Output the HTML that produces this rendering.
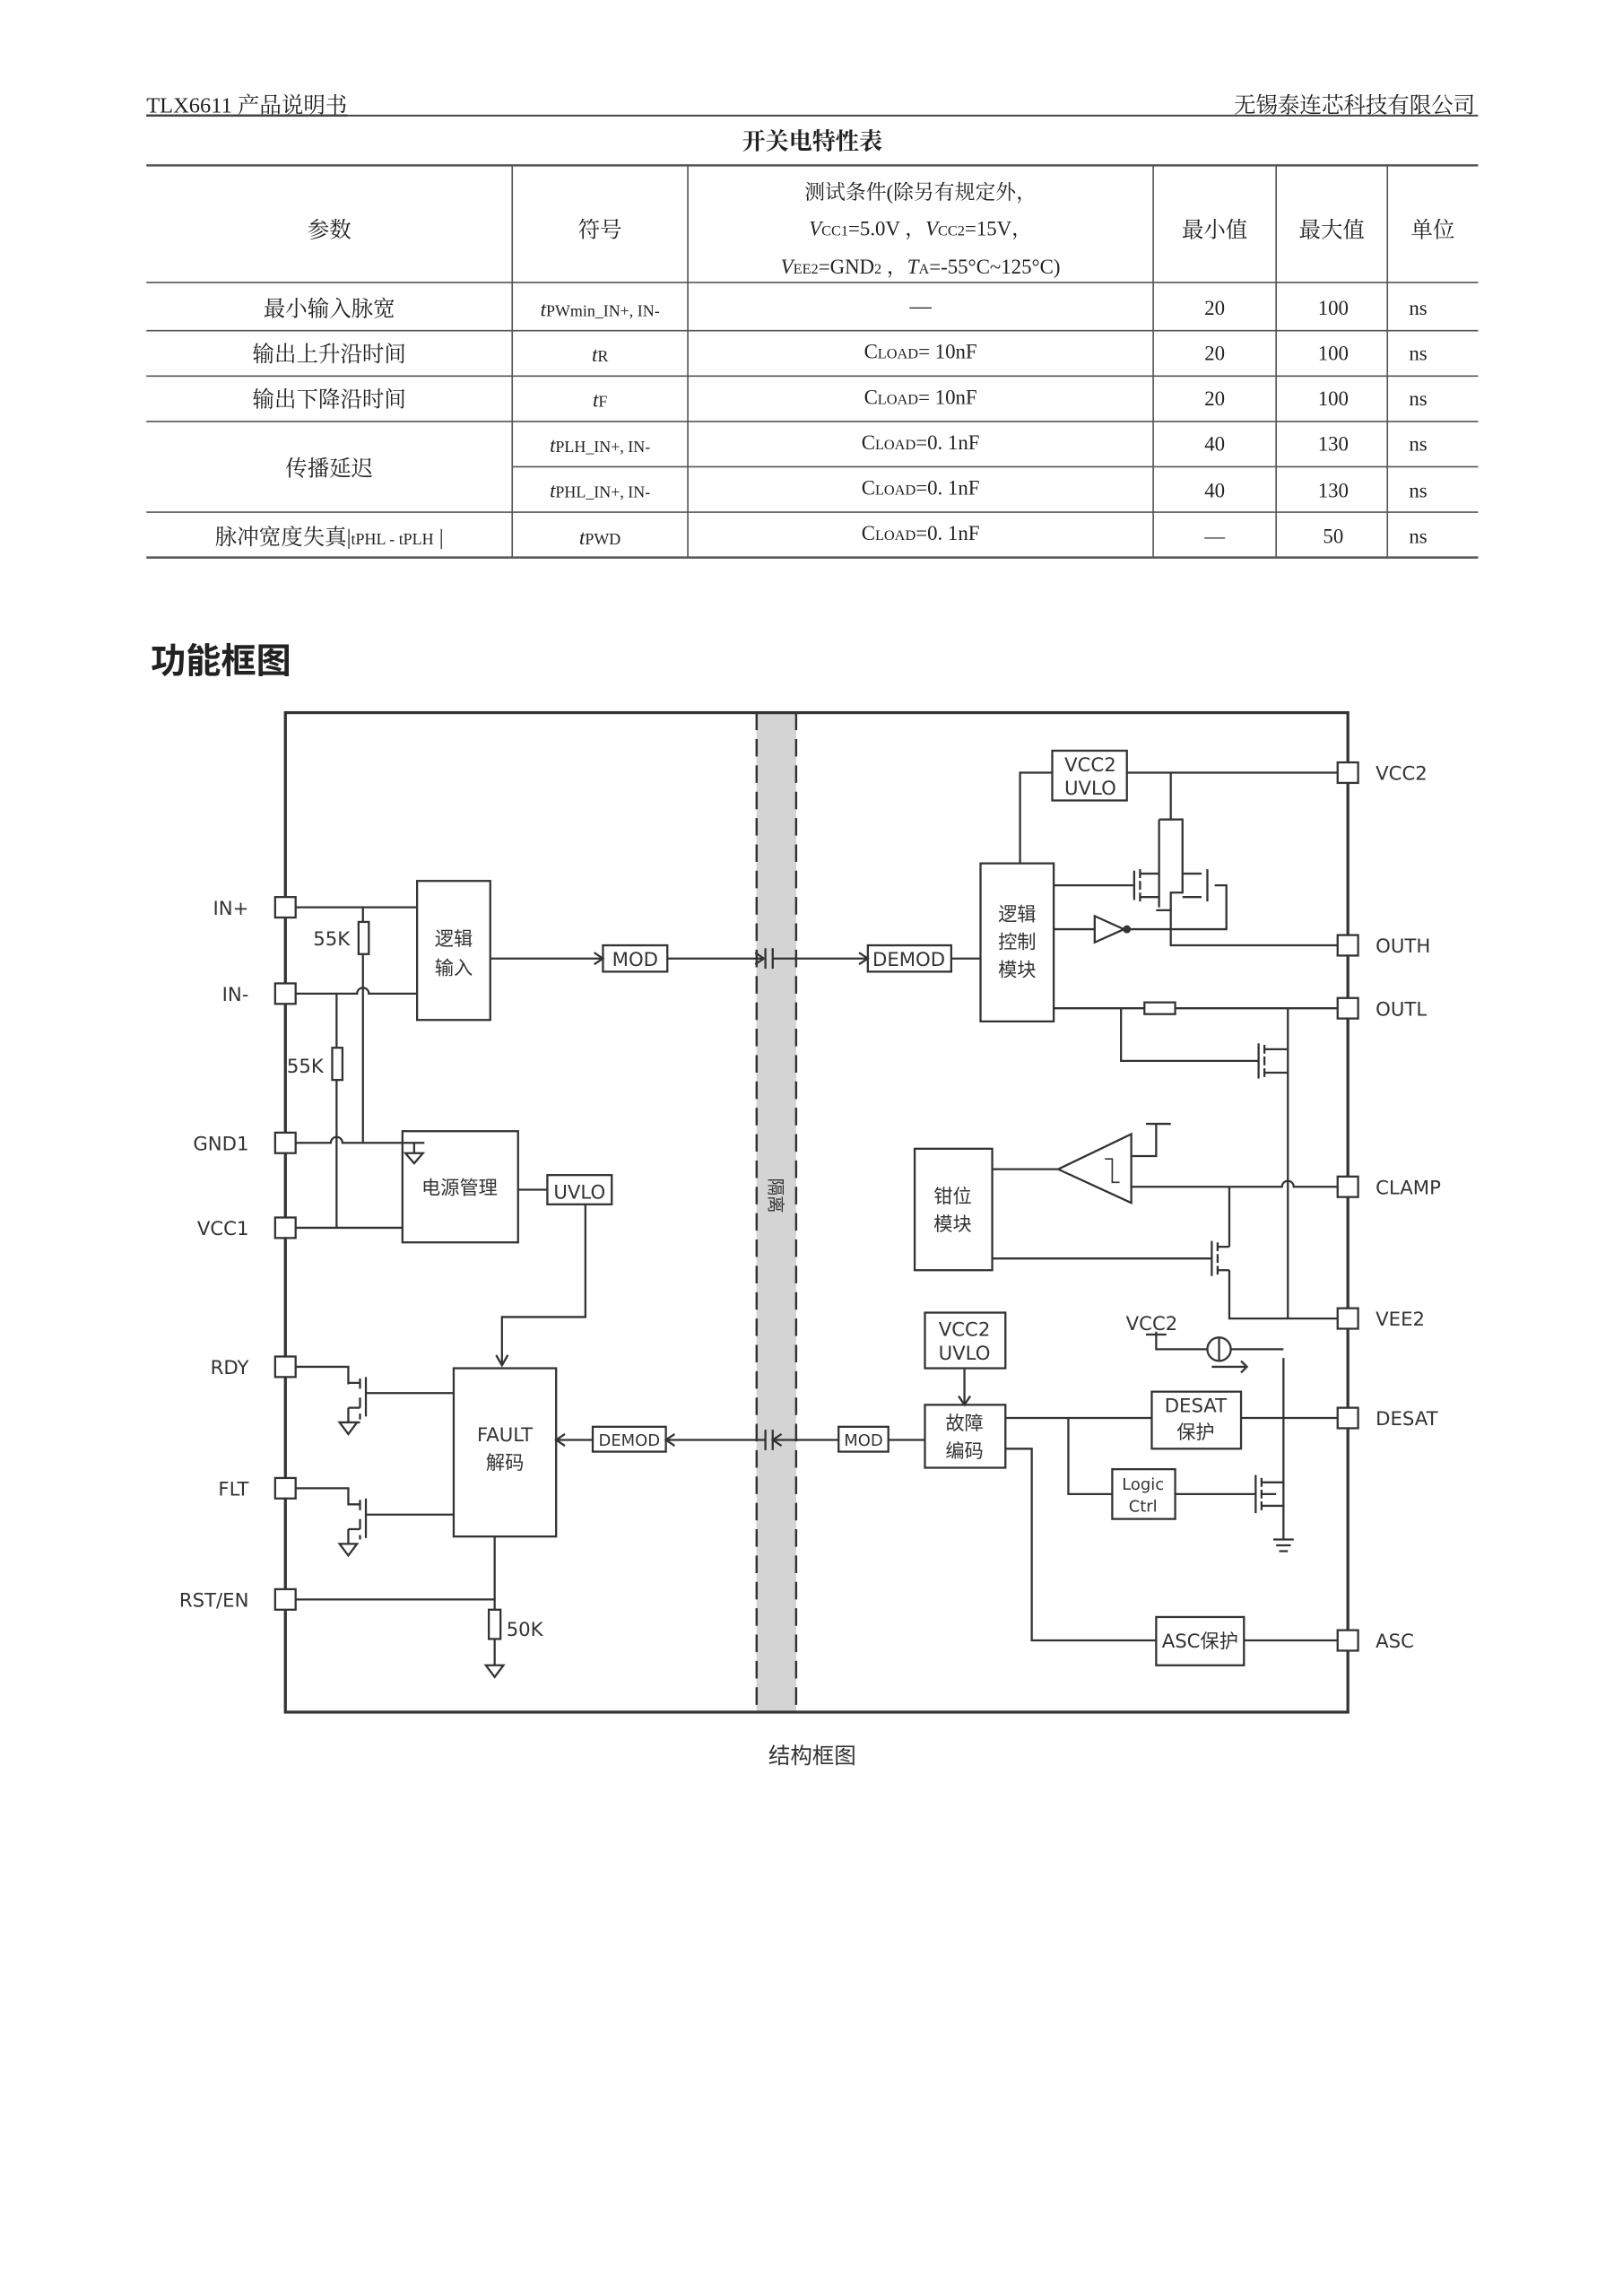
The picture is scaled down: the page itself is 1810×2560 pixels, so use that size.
<!DOCTYPE html>
<html><head><meta charset="utf-8"><style>
html,body{margin:0;padding:0;background:#fff}
svg{display:block}
.s{font-family:"Liberation Serif","Noto Serif CJK SC",serif;fill:#222}
.d{font-family:"DejaVu Sans","Liberation Sans","Noto Sans CJK SC",sans-serif;fill:#333}
</style></head><body>
<svg width="1810" height="2560" viewBox="0 0 1109 1569" preserveAspectRatio="none" xmlns="http://www.w3.org/2000/svg">
<rect width="1109" height="1569" fill="#fff"/>
<!-- header -->
<text x="100" y="77" class="s" font-size="15" text-decoration="underline">TLX6611 产品说明书</text>
<text x="1008" y="77" class="s" font-size="15" text-anchor="end">无锡泰连芯科技有限公司</text>
<line x1="100" y1="79" x2="1010" y2="79" stroke="#444" stroke-width="1.2"/>
<text x="555" y="102" class="s" font-size="16" font-weight="bold" text-anchor="middle">开关电特性表</text>
<!-- table -->
<g stroke="#555" stroke-width="1" fill="none">
<line x1="100" y1="113" x2="1010" y2="113" stroke-width="1.5"/>
<line x1="100" y1="193" x2="1010" y2="193"/>
<line x1="100" y1="226" x2="1010" y2="226"/>
<line x1="100" y1="257" x2="1010" y2="257"/>
<line x1="100" y1="288" x2="1010" y2="288"/>
<line x1="350" y1="319" x2="1010" y2="319"/>
<line x1="100" y1="350" x2="1010" y2="350"/>
<line x1="100" y1="381" x2="1010" y2="381" stroke-width="1.5"/>
<line x1="350" y1="113" x2="350" y2="381"/>
<line x1="470" y1="113" x2="470" y2="381"/>
<line x1="788" y1="113" x2="788" y2="381"/>
<line x1="872" y1="113" x2="872" y2="381"/>
<line x1="948" y1="113" x2="948" y2="381"/>
</g>
<g class="s" font-size="15" text-anchor="middle">
<text x="225" y="162">参数</text>
<text x="410" y="162">符号</text>
<text x="629" y="136" font-size="14">测试条件(除另有规定外，</text>
<text x="629" y="161" font-size="14"><tspan font-style="italic">V</tspan><tspan font-size="10">CC1</tspan>=5.0V ，<tspan font-style="italic">V</tspan><tspan font-size="10">CC2</tspan>=15V，</text>
<text x="629" y="187" font-size="14"><tspan font-style="italic">V</tspan><tspan font-size="10">EE2</tspan>=GND<tspan font-size="10">2</tspan> ，<tspan font-style="italic">T</tspan><tspan font-size="10">A</tspan>=-55°C~125°C)</text>
<text x="830" y="162">最小值</text><text x="910" y="162">最大值</text><text x="979" y="162">单位</text>
<text x="225" y="216">最小输入脉宽</text>
<text x="225" y="247">输出上升沿时间</text>
<text x="225" y="278">输出下降沿时间</text>
<text x="225" y="325">传播延迟</text>
<text x="225" y="372">脉冲宽度失真|<tspan font-size="11">tPHL - tPLH</tspan> |</text>
<text x="410" y="216" font-size="11"><tspan font-style="italic" font-size="14">t</tspan>PWmin_IN+, IN-</text>
<text x="410" y="247" font-size="11"><tspan font-style="italic" font-size="14">t</tspan>R</text>
<text x="410" y="278" font-size="11"><tspan font-style="italic" font-size="14">t</tspan>F</text>
<text x="410" y="309" font-size="11"><tspan font-style="italic" font-size="14">t</tspan>PLH_IN+, IN-</text>
<text x="410" y="340" font-size="11"><tspan font-style="italic" font-size="14">t</tspan>PHL_IN+, IN-</text>
<text x="410" y="372" font-size="11"><tspan font-style="italic" font-size="14">t</tspan>PWD</text>
<text x="629" y="214">—</text>
<text x="629" y="245" font-size="14">C<tspan font-size="10">LOAD</tspan>= 10nF</text>
<text x="629" y="276" font-size="14">C<tspan font-size="10">LOAD</tspan>= 10nF</text>
<text x="629" y="307" font-size="14">C<tspan font-size="10">LOAD</tspan>=0. 1nF</text>
<text x="629" y="338" font-size="14">C<tspan font-size="10">LOAD</tspan>=0. 1nF</text>
<text x="629" y="369" font-size="14">C<tspan font-size="10">LOAD</tspan>=0. 1nF</text>
<g font-size="14">
<text x="830" y="215">20</text><text x="911" y="215">100</text><text x="969" y="215">ns</text>
<text x="830" y="246">20</text><text x="911" y="246">100</text><text x="969" y="246">ns</text>
<text x="830" y="277">20</text><text x="911" y="277">100</text><text x="969" y="277">ns</text>
<text x="830" y="308">40</text><text x="911" y="308">130</text><text x="969" y="308">ns</text>
<text x="830" y="340">40</text><text x="911" y="340">130</text><text x="969" y="340">ns</text>
<text x="830" y="371">—</text><text x="911" y="371">50</text><text x="969" y="371">ns</text>
</g>
</g>
<text x="103" y="460" font-family="Liberation Sans,'Noto Sans CJK SC',sans-serif" font-size="24" font-weight="bold" fill="#222">功能框图</text>
<!-- diagram -->
<rect x="517" y="487" width="27" height="683" fill="#d4d4d4"/>
<g stroke="#333" stroke-width="2" fill="none">
<rect x="195" y="487" width="726" height="683"/>
</g>
<rect x="517" y="489" width="27" height="679" fill="#d4d4d4"/>
<g stroke="#333" stroke-width="1.5" stroke-dasharray="12,6" fill="none">
<line x1="517" y1="487" x2="517" y2="1170"/><line x1="544" y1="487" x2="544" y2="1170"/>
</g>
<text x="0" y="0" class="d" font-size="12" transform="translate(526,805) rotate(90)">隔离</text>
<g stroke="#333" stroke-width="1.4" fill="none">
<g fill="#fff">
<rect x="188" y="613" width="14" height="14"/><rect x="188" y="672" width="14" height="14"/>
<rect x="188" y="774" width="14" height="14"/><rect x="188" y="832" width="14" height="14"/>
<rect x="188" y="927" width="14" height="14"/><rect x="188" y="1010" width="14" height="14"/>
<rect x="188" y="1086" width="14" height="14"/>
<rect x="914" y="521" width="14" height="14"/><rect x="914" y="639" width="14" height="14"/>
<rect x="914" y="682" width="14" height="14"/><rect x="914" y="804" width="14" height="14"/>
<rect x="914" y="894" width="14" height="14"/><rect x="914" y="962" width="14" height="14"/>
<rect x="914" y="1114" width="14" height="14"/>
</g>
<rect x="285" y="602" width="50" height="95"/>
<path d="M202 620H285M248 620V630M248 652V781M202 679H244A4 4 0 0 1 252 679H285M230 679V716M230 738V839"/>
<rect x="245" y="630" width="7" height="22" fill="#fff"/><rect x="227" y="716" width="7" height="22" fill="#fff"/>
<path d="M202 781H226A4 4 0 0 1 234 781H290M202 839H275M283 781V788M277 788H289L283 795Z"/>
<rect x="275" y="773" width="79" height="76"/>
<path d="M354 813H374"/><rect x="374" y="803" width="44" height="20"/>
<path d="M400 823V900H343V933M339 926L343 933L347 926"/>
<rect x="310" y="935" width="70" height="115"/>
<path d="M335 655H412M406 651L412 655L406 659"/><rect x="412" y="646" width="44" height="18"/>
<path d="M456 655H522M516 651L522 655L516 659M523 648V662M528 648V662M528 655H593M587 651L593 655L587 659"/>
<rect x="593" y="646" width="57" height="18"/><path d="M650 655H670"/>
<path d="M202 934H238V945H246M238 945V946M246 942V949M246 955V962M238 962V972H246M246 966V970M246 962H238M250 941V968M250 952H310M232 972H244L238 980Z"/>
<path d="M202 1017H238V1028H246M246 1025V1032M246 1038V1045M238 1045V1055M246 1049V1052M246 1045H238M250 1024V1051M250 1035H310M232 1055H244L238 1063Z"/>
<path d="M202 1093H338M338 1050V1100M338 1120V1138M332 1138H344L338 1146Z"/>
<rect x="334" y="1100" width="8" height="20" fill="#fff"/>
<path d="M380 984H405M386 980L380 984L386 988"/><rect x="405" y="975" width="50" height="17"/>
<path d="M455 984H523M461 980L455 984L461 988M523 977V991M528 977V991M528 984H573M534 980L528 984L534 988"/>
<rect x="573" y="975" width="34" height="17"/><path d="M607 984H632"/>
<rect x="632" y="897" width="55" height="38"/><path d="M659 935V960M655 954L659 960L663 954"/>
<rect x="632" y="960" width="55" height="43"/>
<path d="M687 969H787M848 969H914M730 969V1021H760M803 1021H858"/>
<rect x="787" y="951" width="61" height="39"/><rect x="760" y="1004" width="43" height="34"/>
<path d="M858 1008V1034M862 1010V1016M862 1018V1024M862 1026V1032M862 1013H877M862 1029H877M862 1021H872M877 928V1052M870 1052H884M872 1056H882M874 1060H880"/>
<path d="M790 910V922H825M841 922H877M828 934H852M848 930L852 934L848 938M783 912H797"/>
<circle cx="833" cy="922" r="8" fill="#fff"/><path d="M833 914V930"/>
<path d="M687 990H705V1121H790M850 1121H914"/><rect x="790" y="1105" width="60" height="33"/>
<rect x="670" y="590" width="50" height="108"/>
<rect x="719" y="513" width="51" height="34"/>
<path d="M770 528H914M719 528H697V590M800 528V560"/>
<path d="M792 560H808V610H800V622H790M792 560V620M720 605H775M775 595V615M779 594V600M779 602V608M779 610V616M779 597H792M779 613H792M808 597H821M808 613H821M825 594V616M830 605H838V635H771M720 635H748M748 626L768 635L748 644Z M800 620V646H914"/>
<circle cx="770" cy="635" r="2" fill="#333"/>
<path d="M720 689H782M803 689H914M766 689V725H860M860 713V737M864 714V720M864 722V728M864 730V736M864 717H880M864 733H880M880 689V901H914"/>
<rect x="782" y="685" width="21" height="8" fill="#fff"/>
<rect x="625" y="785" width="53" height="83"/>
<path d="M678 799H723M723 799L773 775V822Z M773 811H876A4 4 0 0 1 884 811H914M773 790H790V768M783 768H800"/>
<path d="M755 792H760V808H765" stroke-width="1"/>
<path d="M840 811V842M678 860H828M828 848V872M832 849V855M832 857V863M832 865V871M832 852H840M832 868H840M840 842V852M840 868V901H880"/>
</g>
<g class="d" font-size="13">
<text x="170" y="625" text-anchor="end">IN+</text><text x="170" y="684" text-anchor="end">IN-</text>
<text x="170" y="786" text-anchor="end">GND1</text><text x="170" y="844" text-anchor="end">VCC1</text>
<text x="170" y="939" text-anchor="end">RDY</text><text x="170" y="1022" text-anchor="end">FLT</text>
<text x="170" y="1098" text-anchor="end">RST/EN</text>
<text x="940" y="533">VCC2</text><text x="940" y="651">OUTH</text><text x="940" y="694">OUTL</text>
<text x="940" y="816">CLAMP</text><text x="940" y="906">VEE2</text><text x="940" y="974">DESAT</text>
<text x="940" y="1126">ASC</text>
<text x="214" y="646">55K</text><text x="196" y="733">55K</text><text x="346" y="1118">50K</text>
<text x="310" y="646" text-anchor="middle">逻辑</text><text x="310" y="666" text-anchor="middle">输入</text>
<text x="314" y="816" text-anchor="middle">电源管理</text>
<text x="396" y="819" text-anchor="middle">UVLO</text>
<text x="345" y="985" text-anchor="middle">FAULT</text><text x="345" y="1004" text-anchor="middle">解码</text>
<text x="434" y="660" text-anchor="middle">MOD</text>
<text x="621" y="660" text-anchor="middle">DEMOD</text>
<text x="430" y="988" text-anchor="middle" font-size="11">DEMOD</text>
<text x="590" y="988" text-anchor="middle" font-size="11">MOD</text>
<text x="659" y="913" text-anchor="middle">VCC2</text><text x="659" y="929" text-anchor="middle">UVLO</text>
<text x="659" y="977" text-anchor="middle">故障</text><text x="659" y="996" text-anchor="middle">编码</text>
<text x="817" y="965" text-anchor="middle">DESAT</text><text x="817" y="983" text-anchor="middle">保护</text>
<text x="781" y="1018" text-anchor="middle" font-size="11">Logic</text><text x="781" y="1033" text-anchor="middle" font-size="11">Ctrl</text>
<text x="787" y="909" text-anchor="middle">VCC2</text>
<text x="820" y="1126" text-anchor="middle">ASC保护</text>
<text x="745" y="527" text-anchor="middle">VCC2</text><text x="745" y="543" text-anchor="middle">UVLO</text>
<text x="695" y="629" text-anchor="middle">逻辑</text><text x="695" y="648" text-anchor="middle">控制</text><text x="695" y="667" text-anchor="middle">模块</text>
<text x="651" y="822" text-anchor="middle">钳位</text><text x="651" y="841" text-anchor="middle">模块</text>
</g>
<text x="555" y="1205" class="d" font-size="15" text-anchor="middle">结构框图</text>
</svg>
</body></html>
